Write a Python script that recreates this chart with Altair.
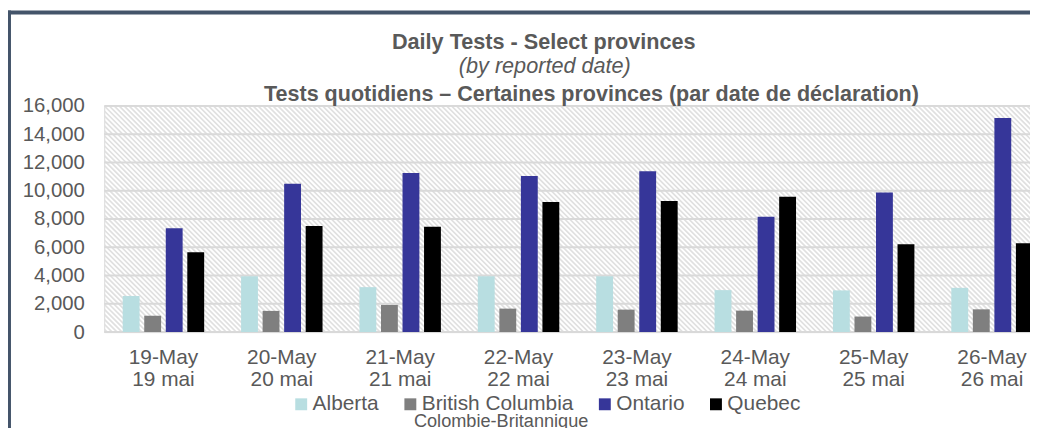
import altair as alt
import pandas as pd

# ---- data ----
dates_en = ["19-May", "20-May", "21-May", "22-May", "23-May", "24-May", "25-May", "26-May"]
dates_fr = ["19 mai", "20 mai", "21 mai", "22 mai", "23 mai", "24 mai", "25 mai", "26 mai"]
provinces = ["Alberta", "British Columbia", "Ontario", "Quebec"]
alberta = [2550, 3950, 3180, 3950, 3950, 2970, 2950, 3130]
british_columbia = [1150, 1500, 1920, 1660, 1590, 1520, 1100, 1610]
ontario = [7350, 10500, 11250, 11040, 11370, 8160, 9870, 15140]
quebec = [5640, 7500, 7460, 9210, 9280, 9570, 6220, 6290]
y_ticks = [0, 2000, 4000, 6000, 8000, 10000, 12000, 14000, 16000]
colors = ["#b8dee1", "#7f7f7f", "#363699", "#000000"]
title_1 = "Daily Tests - Select provinces"
title_2 = "(by reported date)"
title_3 = "Tests quotidiens \u2013 Certaines provinces (par date de d\u00e9claration)"
bc_fr = "Colombie-Britannique"

FONT = "Liberation Sans"
GREY = "#595959"
W, H = 933, 228

cats = [f"{e}|{f}" for e, f in zip(dates_en, dates_fr)]
series = [alberta, british_columbia, ontario, quebec]
rows = []
for p, vals in zip(provinces, series):
    for c, v in zip(cats, vals):
        rows.append({"date": c, "prov": p, "val": v})
df = pd.DataFrame(rows)

# hatch pattern of the plot area
hatch = (
    alt.Chart(alt.sequence(-240, 945, 5, as_="p"))
    .transform_calculate(p2=f"datum.p + {H}")
    .mark_rule(clip=True, color="#e0e0e0", strokeWidth=1.7)
    .encode(
        x=alt.X("p:Q", scale=None, axis=None),
        x2="p2:Q",
        y=alt.value(0),
        y2=alt.value(H),
    )
)

yscale = alt.Scale(domain=[0, 16000], nice=False)
yaxis = alt.Axis(
    values=y_ticks,
    format=",d",
    grid=False,
    ticks=False,
    domain=False,
    labelFontSize=20.5,
    labelColor=GREY,
    labelFont=FONT,
    labelPadding=20,
)

grid = (
    alt.Chart(pd.DataFrame({"v": y_ticks}))
    .mark_rule(color="#d9d9d9", strokeWidth=2)
    .encode(y=alt.Y("v:Q", scale=yscale, axis=yaxis, title=None))
)

bars = (
    alt.Chart(df)
    .mark_bar(clip=True)
    .encode(
        x=alt.X(
            "date:N",
            sort=cats,
            title=None,
            scale=alt.Scale(range=[0, 954.4], paddingInner=0, paddingOuter=0),
            axis=alt.Axis(
                labelExpr="split(datum.label, '|')",
                labelAngle=0,
                labelFontSize=21,
                labelLineHeight=22,
                labelColor=GREY,
                labelFont=FONT,
                labelPadding=15,
                ticks=False,
                domain=False,
                labelBaseline="top",
            ),
        ),
        xOffset=alt.XOffset(
            "prov:N",
            sort=provinces,
            scale=alt.Scale(paddingInner=0.217, paddingOuter=0.857),
        ),
        y=alt.Y("val:Q", scale=yscale, title=None, axis=yaxis),
        color=alt.Color(
            "prov:N",
            scale=alt.Scale(domain=provinces, range=colors),
            legend=alt.Legend(
                title=None,
                orient="none",
                direction="horizontal",
                legendX=188,
                legendY=290,
                symbolType="square",
                symbolSize=144,
                symbolStrokeWidth=0,
                symbolOpacity=1,
                labelFontSize=21,
                labelFont=FONT,
                labelColor=GREY,
                labelOffset=1,
                columnPadding=21,
            ),
        ),
    )
)

one = pd.DataFrame({"d": [0]})


def text_layer(txt, x, y, **kw):
    return (
        alt.Chart(pd.DataFrame({"t": [txt]}))
        .mark_text(font=FONT, color=GREY, align="center", baseline="alphabetic", **kw)
        .encode(text="t:N", x=alt.value(x), y=alt.value(y))
    )


t1 = text_layer(title_1, 443, -57, fontSize=21.8, fontWeight="bold")
t2 = text_layer(title_2, 444, -33, fontSize=21.8, fontStyle="italic")
t3 = text_layer(title_3, 491, -5, fontSize=21.7, fontWeight="bold")
t4 = text_layer(bc_fr, 400, 324, fontSize=18.3)

frame_left = (
    alt.Chart(one)
    .mark_rule(color="#44546a", strokeWidth=3)
    .encode(x=alt.value(-95.5), y=alt.value(-96), y2=alt.value(340))
)
frame_top = (
    alt.Chart(one)
    .mark_rule(color="#44546a", strokeWidth=4)
    .encode(y=alt.value(-94), x=alt.value(-97), x2=alt.value(W + 10))
)

chart = (
    alt.layer(hatch, grid, bars, t1, t2, t3, t4, frame_left, frame_top)
    .resolve_scale(x="independent")
    .properties(
        width=W,
        height=H,
        autosize=alt.AutoSizeParams(type="none"),
        padding={"left": 97, "top": 97, "right": 0, "bottom": 95},
        background="white",
    )
    .configure_view(stroke="#d9d9d9", strokeWidth=1)
)

chart.save("out.html", embed_options={"renderer": "svg", "actions": False})
